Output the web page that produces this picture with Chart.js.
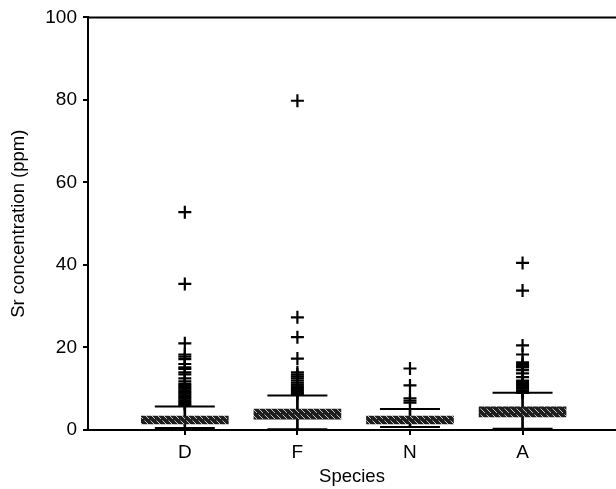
<!DOCTYPE html>
<html>
<head>
<meta charset="utf-8">
<script src="https://cdn.jsdelivr.net/npm/chart.js@4"></script>
<style>
  html, body { margin: 0; padding: 0; background: #fff; }
  canvas { display: block; }
</style>
</head>
<body>
<canvas id="c" width="616" height="489"></canvas>
<script>
// ---- data ----
const categories = ['D', 'F', 'N', 'A'];
const whiskerLow  = [0.5, 0.2, 0.7, 0.3];
const quartile1   = [1.45, 2.6, 1.45, 3.2];
const quartile3   = [3.37, 5.05, 3.37, 5.6];
const whiskerHigh = [5.7, 8.35, 5.1, 9.0];
const outliersD = [52.8, 35.4, 21.0, 18.3, 17.8, 17.2, 16.0, 15.2, 14.8, 14.0, 13.5, 12.5, 11.8, 11.2, 10.8, 10.4, 10.0, 9.6, 9.2, 8.8, 8.4, 8.0, 7.6, 7.2, 6.8, 6.4, 6.1];
const outliersF = [79.8, 27.3, 22.5, 17.3, 14.0, 13.5, 13.0, 12.5, 12.0, 11.5, 11.0, 10.6, 10.2, 9.8, 9.4, 9.0, 8.7];
const outliersN = [14.9, 10.8, 7.7, 7.1, 6.6];
const outliersA = [40.5, 33.8, 20.5, 18.3, 16.4, 16.0, 15.5, 15.2, 14.5, 13.7, 12.8, 12.0, 11.6, 11.2, 10.8, 10.4, 10.0, 9.6, 9.3, 9.0];
const yTicks = [0, 20, 40, 60, 80, 100];

const outlierLists = [outliersD, outliersF, outliersN, outliersA];

// ---- build datasets ----
const boxData = categories.map((c, i) => ({ x: i + 1, y: [quartile1[i], quartile3[i]] }));
const stemData = categories.map((c, i) => ({ x: i + 1, y: [whiskerLow[i], whiskerHigh[i]] }));
const capData = [];
categories.forEach((c, i) => {
  capData.push({ x: i + 1, y: whiskerLow[i] });
  capData.push({ x: i + 1, y: whiskerHigh[i] });
});
const outlierData = [];
outlierLists.forEach((list, i) => list.forEach(v => outlierData.push({ x: i + 1, y: v })));

// hatch pattern for boxes
function makePattern() {
  const p = document.createElement('canvas');
  p.width = 6; p.height = 6;
  const g = p.getContext('2d');
  g.fillStyle = '#1e1e1e';
  g.fillRect(0, 0, 6, 6);
  g.strokeStyle = '#c4c4c4';
  g.lineWidth = 1;
  g.beginPath();
  g.moveTo(0.5, 0.5); g.lineTo(5, 5);
  g.stroke();
  return g.createPattern(p, 'repeat');
}
const hatch = makePattern();

const topFrame = {
  id: 'topFrame',
  afterDraw(chart) {
    const { ctx, chartArea } = chart;
    ctx.save();
    ctx.strokeStyle = '#000';
    ctx.lineWidth = 2;
    ctx.beginPath();
    ctx.moveTo(chartArea.left - 1, chartArea.top);
    ctx.lineTo(chartArea.right, chartArea.top);
    ctx.stroke();
    ctx.restore();
  }
};

Chart.defaults.font.family = '"Liberation Sans", Arial, Helvetica, sans-serif';
Chart.defaults.font.size = 18.5;
Chart.defaults.color = '#000';

new Chart(document.getElementById('c'), {
  type: 'scatter',
  data: {
    datasets: [
      {
        type: 'bar',
        data: boxData,
        backgroundColor: hatch,
        borderWidth: 0,
        barThickness: 87,
        grouped: false
      },
      {
        type: 'bar',
        data: stemData,
        backgroundColor: '#000',
        borderWidth: 0,
        barThickness: 2,
        grouped: false
      },
      {
        type: 'scatter',
        data: capData,
        pointStyle: 'line',
        pointRadius: 30,
        pointBorderWidth: 2,
        borderColor: '#000',
        backgroundColor: '#000'
      },
      {
        type: 'scatter',
        data: outlierData,
        pointStyle: 'cross',
        pointRadius: 6.5,
        pointBorderWidth: 2.2,
        borderColor: '#000',
        backgroundColor: '#000'
      }
    ]
  },
  options: {
    responsive: false,
    animation: false,
    events: [],
    layout: { autoPadding: false, padding: { top: 15, right: 0, left: 0, bottom: 0 } },
    plugins: { legend: { display: false }, tooltip: { enabled: false } },
    scales: {
      x: {
        type: 'linear',
        min: 0.14,
        max: 4.83,
        offset: false,
        grid: { display: true, drawOnChartArea: false, drawTicks: true, tickLength: 5, color: '#000', lineWidth: 2, offset: false },
        border: { display: true, color: '#000', width: 2 },
        afterBuildTicks(scale) { scale.ticks = categories.map((c, i) => ({ value: i + 1 })); },
        afterFit(scale) { scale.height = 59; },
        ticks: {
          padding: 6,
          autoSkip: false,
          maxRotation: 0,
          font: { size: 19 },
          callback: (v) => categories[Math.round(v) - 1]
        },
        title: { display: true, text: 'Species', padding: { top: 0, bottom: 0.5 } }
      },
      y: {
        type: 'linear',
        min: 0,
        max: 100,
        beginAtZero: true,
        grid: { display: true, drawOnChartArea: false, drawTicks: true, tickLength: 5, color: '#000', lineWidth: 2 },
        border: { display: true, color: '#000', width: 2 },
        afterBuildTicks(scale) { scale.ticks = yTicks.map(v => ({ value: v })); },
        afterFit(scale) { scale.width = 88; },
        ticks: { padding: 6, font: { size: 19 } },
        title: { display: true, text: 'Sr concentration (ppm)', padding: { top: 7.5, bottom: 0 } }
      }
    }
  },
  plugins: [topFrame]
});
</script>
</body>
</html>
